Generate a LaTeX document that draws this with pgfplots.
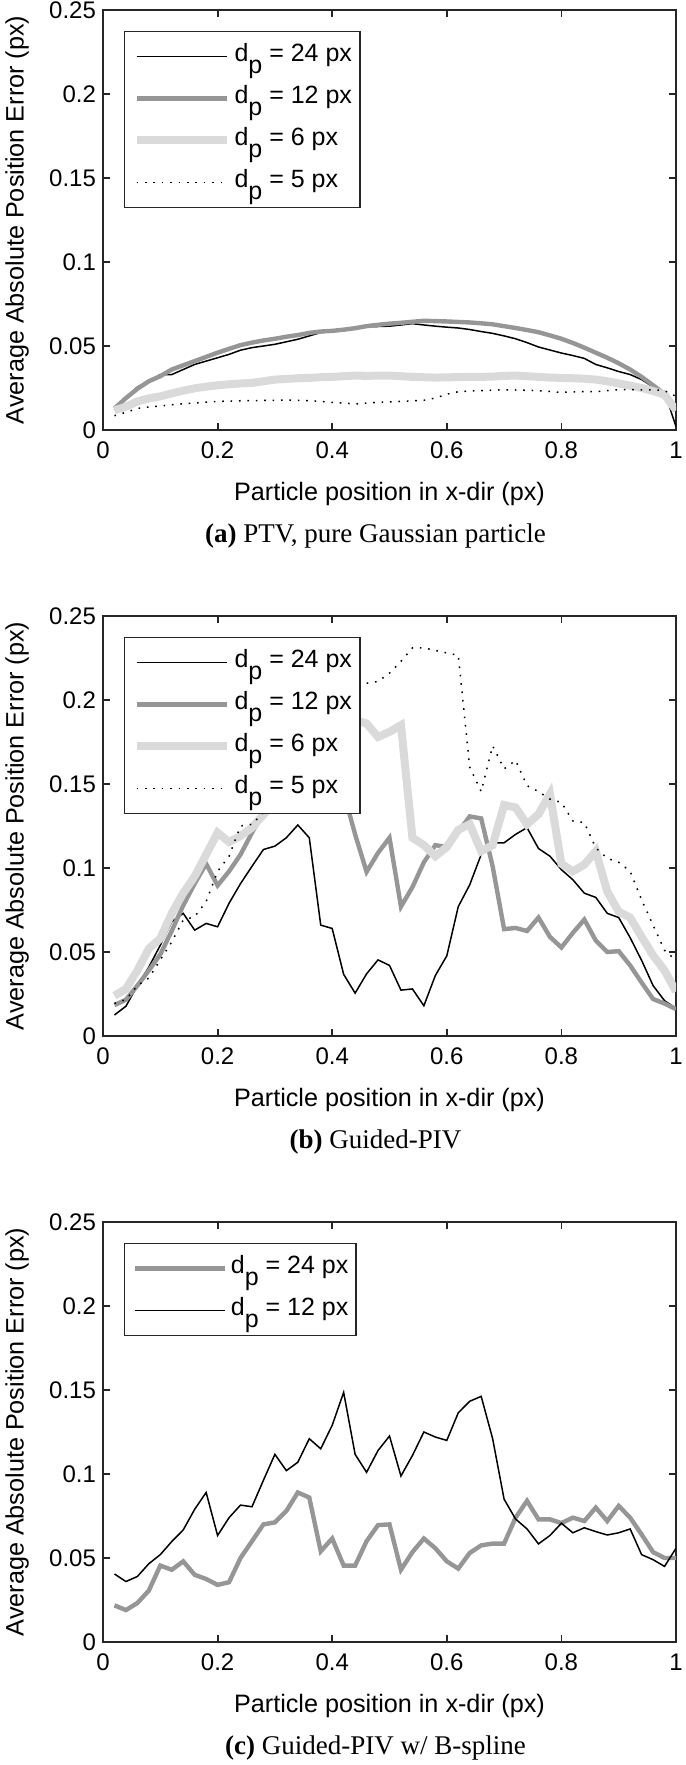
\documentclass[border=0pt]{standalone}
\usepackage{fontspec}
\setmainfont{Liberation Sans}
\newfontfamily\capfont{Liberation Serif}
\usepackage{pgfplots}
\pgfplotsset{compat=1.18}
\definecolor{gmid}{RGB}{150,150,150}
\definecolor{glight}{RGB}{218,218,218}
\definecolor{axc}{RGB}{38,38,38}
\newcommand{\dpx}[1]{d\raisebox{-0.5em}{p} = #1 px}
\tikzset{capnode/.style={anchor=center, yshift=-52.8pt, xshift=-7pt, font=\capfont\fontsize{13.5}{15}\selectfont}}
\pgfplotsset{
  myax/.style={
    scale only axis, width=286.5pt, height=210pt,
    xmin=0, xmax=1, ymin=0, ymax=0.25,
    xtick={0,0.2,0.4,0.6,0.8,1}, xticklabels={0,0.2,0.4,0.6,0.8,1},
    ytick={0,0.05,0.1,0.15,0.2,0.25}, yticklabels={0,0.05,0.1,0.15,0.2,0.25},
    tick align=inside, major tick length=3.5pt,
    axis line style={axc, line width=0.9pt},
    every tick/.style={axc, line width=0.9pt},
    /pgf/number format/assume math mode=true,
    tick label style={font=\fontsize{12}{14}\selectfont, text=black},
    xticklabel style={yshift=-2.5pt},
    xlabel={Particle position in x-dir (px)},
    ylabel={Average Absolute Position Error (px)},
    every axis x label/.style={at={(axis description cs:0.5,0)}, anchor=center, yshift=-32pt, font=\fontsize{12.6}{15}\selectfont},
    every axis y label/.style={at={(axis description cs:-0.15,0.5)}, anchor=center, rotate=90, font=\fontsize{12.6}{15}\selectfont},
    legend style={at={(0.036,0.951)}, anchor=north west, draw=axc, line width=0.9pt,
      font=\fontsize{12.5}{15}\selectfont, cells={anchor=west},
      nodes={inner sep=0pt, text height=9pt, text depth=4pt},
      row sep=8pt, inner xsep=4pt, inner ysep=6pt,
      /tikz/every odd column/.append style={column sep=2pt}},
    legend image code/.code={\draw[#1] (0pt,0pt) -- (45pt,0pt);},
  },
  s24/.style={black, line width=0.75pt},
  s12/.style={gmid, line width=2.2pt},
  s6/.style={glight, line width=4pt},
  s5/.style={black, line width=0.75pt, dash pattern=on 0.8pt off 3.4pt},
}
\begin{document}
\begin{tikzpicture}
\useasboundingbox (-51.5pt,-61.5pt) rectangle (291pt,821pt);
% ---------------- (a)
\begin{axis}[myax, at={(0,606pt)}, extra description/.code={\node[capnode] at (0.5,0) {\textbf{(a)} PTV, pure Gaussian particle};}]
\addplot[s24] coordinates {(0.02,0.012)(0.04,0.019)(0.06,0.0256)(0.08,0.029)(0.1,0.033)(0.12,0.033)(0.14,0.036)(0.16,0.039)(0.18,0.041)(0.2,0.043)(0.22,0.045)(0.24,0.0475)(0.26,0.049)(0.28,0.050)(0.3,0.051)(0.32,0.0525)(0.34,0.054)(0.36,0.056)(0.38,0.058)(0.4,0.0588)(0.42,0.0597)(0.44,0.0605)(0.46,0.0614)(0.48,0.0616)(0.5,0.0618)(0.52,0.0625)(0.54,0.0633)(0.56,0.0625)(0.58,0.0618)(0.6,0.0612)(0.62,0.0607)(0.64,0.0598)(0.66,0.0586)(0.68,0.0575)(0.7,0.056)(0.72,0.0543)(0.74,0.052)(0.76,0.0494)(0.78,0.0476)(0.8,0.0458)(0.82,0.0443)(0.84,0.0426)(0.86,0.039)(0.88,0.037)(0.9,0.0348)(0.92,0.033)(0.94,0.030)(0.96,0.0256)(0.98,0.0228)(1.0,0.002)};
\addlegendentry{\dpx{24}}
\addplot[s12] coordinates {(0.02,0.0128)(0.04,0.019)(0.06,0.0245)(0.08,0.029)(0.1,0.032)(0.12,0.036)(0.14,0.0385)(0.16,0.041)(0.18,0.0435)(0.2,0.046)(0.22,0.0483)(0.24,0.0505)(0.26,0.052)(0.28,0.0533)(0.3,0.0543)(0.32,0.0555)(0.34,0.0565)(0.36,0.0578)(0.38,0.0586)(0.4,0.059)(0.42,0.0597)(0.44,0.0606)(0.46,0.0618)(0.48,0.0626)(0.5,0.0633)(0.52,0.0638)(0.54,0.0644)(0.56,0.065)(0.58,0.0648)(0.6,0.0646)(0.62,0.0643)(0.64,0.064)(0.66,0.0635)(0.68,0.0629)(0.7,0.0618)(0.72,0.0607)(0.74,0.0595)(0.76,0.0582)(0.78,0.0563)(0.8,0.0543)(0.82,0.0518)(0.84,0.049)(0.86,0.046)(0.88,0.043)(0.9,0.0397)(0.92,0.036)(0.94,0.0316)(0.96,0.0266)(0.98,0.0213)(1.0,0.0117)};
\addlegendentry{\dpx{12}}
\addplot[s6] coordinates {(0.02,0.0117)(0.04,0.0138)(0.06,0.017)(0.08,0.0188)(0.1,0.020)(0.12,0.0218)(0.14,0.0234)(0.16,0.0248)(0.18,0.0258)(0.2,0.0266)(0.22,0.0272)(0.24,0.0277)(0.26,0.028)(0.28,0.029)(0.3,0.030)(0.32,0.0304)(0.34,0.0308)(0.36,0.031)(0.38,0.0314)(0.4,0.0316)(0.42,0.032)(0.44,0.0324)(0.46,0.0322)(0.48,0.0324)(0.5,0.0324)(0.52,0.032)(0.54,0.0316)(0.56,0.0314)(0.58,0.0312)(0.6,0.0313)(0.62,0.0315)(0.64,0.0316)(0.66,0.0316)(0.68,0.0318)(0.7,0.0322)(0.72,0.0324)(0.74,0.032)(0.76,0.0316)(0.78,0.0312)(0.8,0.031)(0.82,0.0308)(0.84,0.0305)(0.86,0.030)(0.88,0.029)(0.9,0.0277)(0.92,0.0264)(0.94,0.025)(0.96,0.0232)(0.98,0.021)(1.0,0.0117)};
\addlegendentry{\dpx{6}}
\addplot[s5] coordinates {(0.02,0.0085)(0.04,0.0105)(0.06,0.0128)(0.08,0.0137)(0.1,0.0143)(0.12,0.015)(0.14,0.0156)(0.16,0.016)(0.18,0.0166)(0.2,0.017)(0.22,0.0172)(0.24,0.0174)(0.26,0.0175)(0.28,0.0176)(0.3,0.0177)(0.32,0.0178)(0.34,0.0176)(0.36,0.0175)(0.38,0.017)(0.4,0.0164)(0.42,0.016)(0.44,0.0155)(0.46,0.016)(0.48,0.0164)(0.5,0.0167)(0.52,0.017)(0.54,0.0174)(0.56,0.0177)(0.58,0.019)(0.6,0.0213)(0.62,0.0228)(0.64,0.0232)(0.66,0.0234)(0.68,0.0237)(0.7,0.0239)(0.72,0.0238)(0.74,0.0236)(0.76,0.0234)(0.78,0.0229)(0.8,0.0224)(0.82,0.0226)(0.84,0.0228)(0.86,0.0228)(0.88,0.0234)(0.9,0.024)(0.92,0.024)(0.94,0.0239)(0.96,0.0239)(0.98,0.0234)(1.0,0.020)};
\addlegendentry{\dpx{5}}
\end{axis}
% ---------------- (b)
\begin{axis}[myax, at={(0,303pt)}, extra description/.code={\node[capnode] at (0.5,0) {\textbf{(b)} Guided-PIV};}]
\addplot[s24] coordinates {(0.02,0.0125)(0.04,0.0177)(0.06,0.030)(0.08,0.041)(0.1,0.054)(0.12,0.068)(0.14,0.073)(0.16,0.063)(0.18,0.067)(0.2,0.065)(0.22,0.079)(0.24,0.0907)(0.26,0.101)(0.28,0.111)(0.3,0.113)(0.32,0.118)(0.34,0.1256)(0.36,0.118)(0.38,0.066)(0.4,0.064)(0.42,0.0367)(0.44,0.0255)(0.46,0.037)(0.48,0.0453)(0.5,0.042)(0.52,0.0273)(0.54,0.028)(0.56,0.018)(0.58,0.036)(0.6,0.0477)(0.62,0.077)(0.64,0.09)(0.66,0.108)(0.68,0.115)(0.7,0.115)(0.72,0.12)(0.74,0.124)(0.76,0.1116)(0.78,0.107)(0.8,0.099)(0.82,0.093)(0.84,0.085)(0.86,0.0825)(0.88,0.073)(0.9,0.0705)(0.92,0.0585)(0.94,0.045)(0.96,0.030)(0.98,0.021)(1.0,0.0165)};
\addlegendentry{\dpx{24}}
\addplot[s12] coordinates {(0.02,0.0184)(0.04,0.0216)(0.06,0.030)(0.08,0.039)(0.1,0.0486)(0.12,0.0626)(0.14,0.0777)(0.16,0.0907)(0.18,0.1025)(0.2,0.0896)(0.22,0.098)(0.24,0.108)(0.26,0.121)(0.28,0.133)(0.3,0.142)(0.32,0.150)(0.34,0.156)(0.36,0.160)(0.38,0.155)(0.4,0.150)(0.42,0.145)(0.44,0.12)(0.46,0.0977)(0.48,0.109)(0.5,0.118)(0.52,0.077)(0.54,0.0886)(0.56,0.1034)(0.58,0.1136)(0.6,0.1125)(0.62,0.1216)(0.64,0.1307)(0.66,0.1295)(0.68,0.101)(0.7,0.0636)(0.72,0.0643)(0.74,0.0625)(0.76,0.0705)(0.78,0.059)(0.8,0.0527)(0.82,0.0614)(0.84,0.0693)(0.86,0.0568)(0.88,0.05)(0.9,0.0505)(0.92,0.042)(0.94,0.0318)(0.96,0.022)(0.98,0.0193)(1.0,0.016)};
\addlegendentry{\dpx{12}}
\addplot[s6] coordinates {(0.02,0.024)(0.04,0.028)(0.06,0.039)(0.08,0.052)(0.1,0.058)(0.12,0.073)(0.14,0.085)(0.16,0.095)(0.18,0.108)(0.2,0.121)(0.22,0.1155)(0.24,0.119)(0.26,0.124)(0.28,0.1317)(0.3,0.14)(0.32,0.148)(0.34,0.155)(0.36,0.163)(0.38,0.170)(0.4,0.176)(0.42,0.182)(0.44,0.188)(0.46,0.186)(0.48,0.178)(0.5,0.181)(0.52,0.185)(0.54,0.118)(0.56,0.1136)(0.58,0.107)(0.6,0.1125)(0.62,0.1227)(0.64,0.126)(0.66,0.110)(0.68,0.1136)(0.7,0.1375)(0.72,0.136)(0.74,0.126)(0.76,0.132)(0.78,0.144)(0.8,0.1025)(0.82,0.098)(0.84,0.102)(0.86,0.11)(0.88,0.086)(0.9,0.074)(0.92,0.0705)(0.94,0.059)(0.96,0.048)(0.98,0.039)(1.0,0.0265)};
\addlegendentry{\dpx{6}}
\addplot[s5] coordinates {(0.02,0.0194)(0.04,0.0216)(0.06,0.030)(0.08,0.0345)(0.1,0.0453)(0.12,0.056)(0.14,0.069)(0.16,0.071)(0.18,0.080)(0.2,0.098)(0.22,0.107)(0.24,0.125)(0.26,0.126)(0.28,0.133)(0.3,0.145)(0.32,0.160)(0.34,0.172)(0.36,0.185)(0.38,0.195)(0.4,0.203)(0.42,0.208)(0.44,0.21)(0.46,0.21)(0.48,0.211)(0.5,0.216)(0.52,0.223)(0.54,0.231)(0.56,0.231)(0.58,0.2295)(0.6,0.228)(0.62,0.2266)(0.64,0.16)(0.66,0.1455)(0.68,0.1727)(0.7,0.159)(0.72,0.164)(0.74,0.149)(0.76,0.1455)(0.78,0.141)(0.8,0.139)(0.82,0.128)(0.84,0.127)(0.86,0.112)(0.88,0.1057)(0.9,0.1034)(0.92,0.098)(0.94,0.081)(0.96,0.066)(0.98,0.051)(1.0,0.045)};
\addlegendentry{\dpx{5}}
\end{axis}
% ---------------- (c)
\begin{axis}[myax, at={(0,0)}, extra description/.code={\node[capnode] at (0.5,0) {\textbf{(c)} Guided-PIV w/ B-spline};}]
\addplot[s12] coordinates {(0.02,0.0218)(0.04,0.019)(0.06,0.0232)(0.08,0.0306)(0.1,0.0455)(0.12,0.043)(0.14,0.048)(0.16,0.040)(0.18,0.0375)(0.2,0.034)(0.22,0.0356)(0.24,0.050)(0.26,0.060)(0.28,0.070)(0.3,0.0712)(0.32,0.078)(0.34,0.089)(0.36,0.086)(0.38,0.054)(0.4,0.0616)(0.42,0.0455)(0.44,0.0455)(0.46,0.060)(0.48,0.0696)(0.5,0.070)(0.52,0.043)(0.54,0.0535)(0.56,0.0616)(0.58,0.0558)(0.6,0.048)(0.62,0.0437)(0.64,0.053)(0.66,0.0575)(0.68,0.0586)(0.7,0.0586)(0.72,0.074)(0.74,0.084)(0.76,0.073)(0.78,0.073)(0.8,0.0708)(0.82,0.074)(0.84,0.072)(0.86,0.080)(0.88,0.072)(0.9,0.081)(0.92,0.074)(0.94,0.064)(0.96,0.0535)(0.98,0.050)(1.0,0.050)};
\addlegendentry{\dpx{24}}
\addplot[s24] coordinates {(0.02,0.0405)(0.04,0.036)(0.06,0.039)(0.08,0.0466)(0.1,0.052)(0.12,0.0598)(0.14,0.0667)(0.16,0.079)(0.18,0.089)(0.2,0.0634)(0.22,0.074)(0.24,0.0815)(0.26,0.0805)(0.28,0.0963)(0.3,0.1117)(0.32,0.102)(0.34,0.107)(0.36,0.121)(0.38,0.115)(0.4,0.129)(0.42,0.1486)(0.44,0.1117)(0.46,0.101)(0.48,0.114)(0.5,0.1226)(0.52,0.0988)(0.54,0.111)(0.56,0.125)(0.58,0.122)(0.6,0.12)(0.62,0.1364)(0.64,0.1433)(0.66,0.1462)(0.68,0.121)(0.7,0.085)(0.72,0.0732)(0.74,0.0673)(0.76,0.0584)(0.78,0.0634)(0.8,0.0707)(0.82,0.065)(0.84,0.068)(0.86,0.0657)(0.88,0.0637)(0.9,0.065)(0.92,0.0673)(0.94,0.052)(0.96,0.049)(0.98,0.045)(1.0,0.0558)};
\addlegendentry{\dpx{12}}
\end{axis}
\end{tikzpicture}
\end{document}
